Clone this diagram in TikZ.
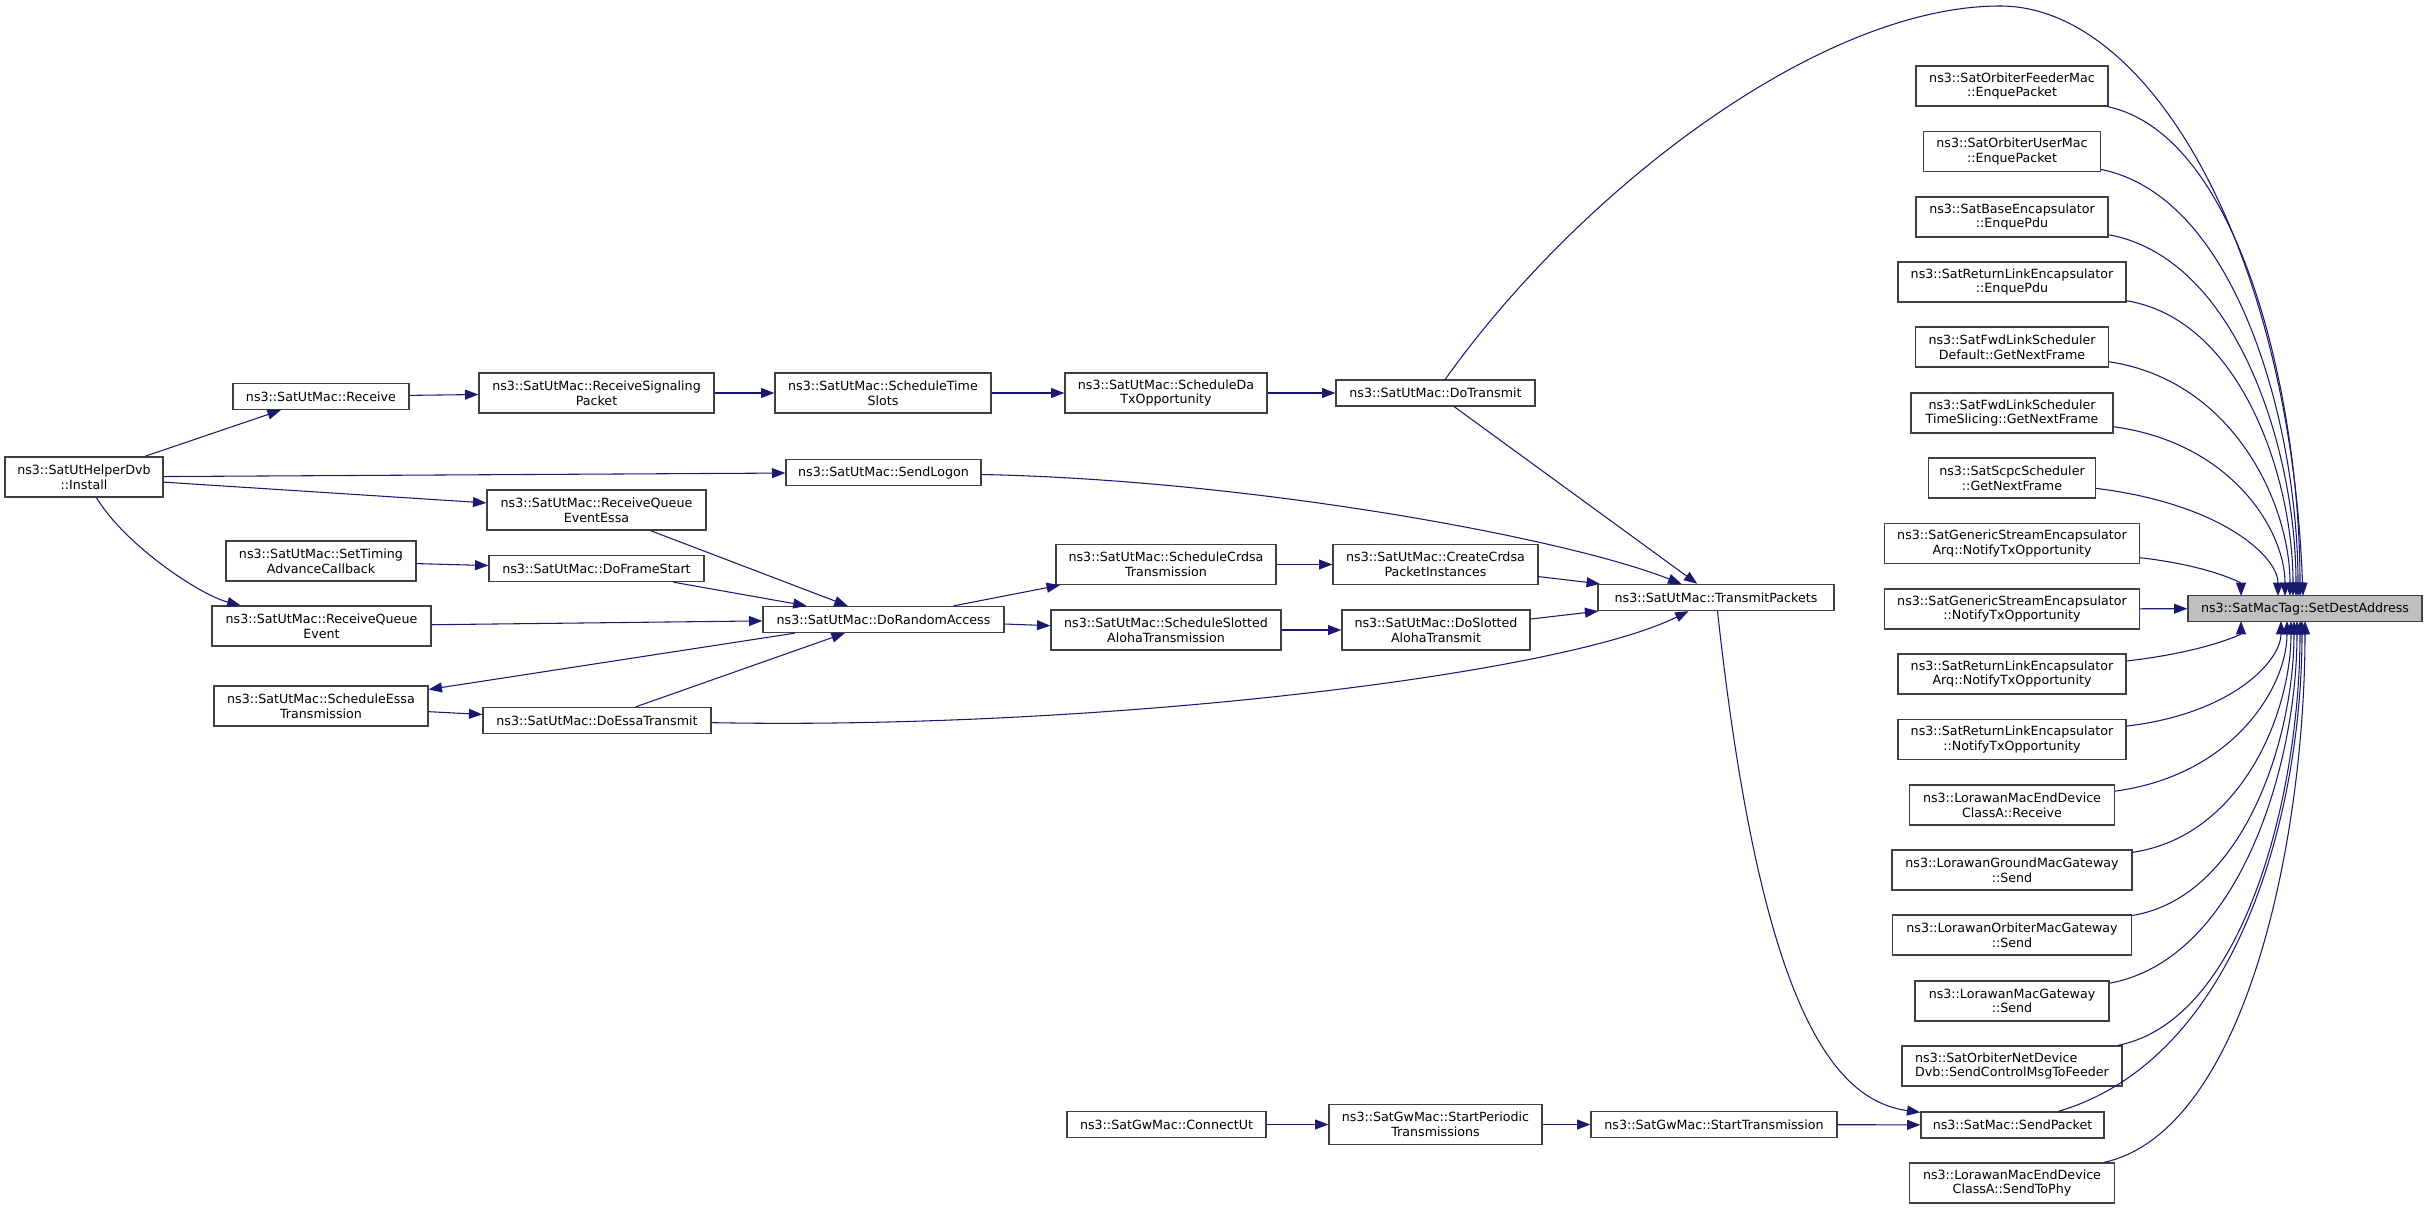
\documentclass[tikz,border=0pt]{standalone}
\usepackage{fontspec}
\setmainfont{DejaVu Sans}
\usepackage{tikz}
\usetikzlibrary{calc,arrows.meta}
\usepackage{xcolor}
\definecolor{midnightblue}{HTML}{191970}
\definecolor{grey25}{HTML}{404040}
\definecolor{grey75}{HTML}{BFBFBF}

\tikzset{
  fn/.style={draw=grey25, fill=white, rectangle, line width=1pt, inner xsep=3pt, inner ysep=2pt,
    minimum height=19.5pt, align=center, font=\fontsize{9.5}{11}\selectfont},
  two/.style={minimum height=30pt},
  bw/.style={minimum width=#1*0.75pt},
  root/.style={fn, fill=grey75},
  link/.style={draw=midnightblue, line width=0.8pt, -{Triangle[length=10pt,width=7.5pt]}}
}

\begin{document}
\begin{tikzpicture}[x=0.75pt, y=-0.75pt]
\useasboundingbox (0,0) rectangle (2428,1210);

% Callers on the left
\node[fn, two, bw=158] (install) at (84,477) {ns3::SatUtHelperDvb\\::Install};
\node[fn, bw=176] (recv) at (321,396.5) {ns3::SatUtMac::Receive};
\node[fn, two, bw=235] (rsp) at (596.5,393) {ns3::SatUtMac::ReceiveSignaling\\Packet};
\node[fn, two, bw=216] (sts) at (883,393) {ns3::SatUtMac::ScheduleTime\\Slots};
\node[fn, two, bw=202] (sda) at (1166,393) {ns3::SatUtMac::ScheduleDa\\TxOpportunity};
\node[fn, bw=199] (dotx) at (1435.5,393) {ns3::SatUtMac::DoTransmit};
\node[fn, bw=195] (logon) at (883.5,472.5) {ns3::SatUtMac::SendLogon};
\node[fn, two, bw=219] (rqee) at (596.5,510) {ns3::SatUtMac::ReceiveQueue\\EventEssa};
\node[fn, two, bw=190] (timing) at (321,561) {ns3::SatUtMac::SetTiming\\AdvanceCallback};
\node[fn, bw=215] (frame) at (596.5,568.5) {ns3::SatUtMac::DoFrameStart};
\node[fn, two, bw=219] (rqe) at (321.5,626) {ns3::SatUtMac::ReceiveQueue\\Event};
\node[fn, bw=241] (dra) at (883.5,619.5) {ns3::SatUtMac::DoRandomAccess};
\node[fn, two, bw=220] (crdsa) at (1166,564.5) {ns3::SatUtMac::ScheduleCrdsa\\Transmission};
\node[fn, two, bw=205] (create) at (1435.5,564.5) {ns3::SatUtMac::CreateCrdsa\\PacketInstances};
\node[fn, two, bw=230] (slotted) at (1166,630) {ns3::SatUtMac::ScheduleSlotted\\AlohaTransmission};
\node[fn, two, bw=188] (doslot) at (1436,630) {ns3::SatUtMac::DoSlotted\\AlohaTransmit};
\node[fn, bw=236] (tp) at (1716,597.5) {ns3::SatUtMac::TransmitPackets};
\node[fn, two, bw=214] (essa) at (321,706) {ns3::SatUtMac::ScheduleEssa\\Transmission};
\node[fn, bw=228] (doessa) at (597,720.5) {ns3::SatUtMac::DoEssaTransmit};
\node[fn, bw=199] (connect) at (1166.5,1124.5) {ns3::SatGwMac::ConnectUt};
\node[fn, two, bw=213] (periodic) at (1435.5,1124.5) {ns3::SatGwMac::StartPeriodic\\Transmissions};
\node[fn, bw=246] (starttx) at (1714,1124.5) {ns3::SatGwMac::StartTransmission};
\node[fn, bw=183] (sendpacket) at (2012.5,1125) {ns3::SatMac::SendPacket};
\node[root, bw=234] (dest) at (2305,608.5) {ns3::SatMacTag::SetDestAddress};

% Right column of callers
\foreach \n/\cy/\w/\al/\txt in {
  feeder/86/192/center/{ns3::SatOrbiterFeederMac\\::EnquePacket},
  usermac/151.5/177/center/{ns3::SatOrbiterUserMac\\::EnquePacket},
  baseenc/217/192/center/{ns3::SatBaseEncapsulator\\::EnquePdu},
  rlenc/282/228/center/{ns3::SatReturnLinkEncapsulator\\::EnquePdu},
  fwddef/347/193/center/{ns3::SatFwdLinkScheduler\\Default::GetNextFrame},
  fwdslice/413/202/center/{ns3::SatFwdLinkScheduler\\TimeSlicing::GetNextFrame},
  scpc/478/167/center/{ns3::SatScpcScheduler\\::GetNextFrame},
  gsarq/543.5/255/center/{ns3::SatGenericStreamEncapsulator\\Arq::NotifyTxOpportunity},
  gs/609/255/center/{ns3::SatGenericStreamEncapsulator\\::NotifyTxOpportunity},
  rlarq/674/228/center/{ns3::SatReturnLinkEncapsulator\\Arq::NotifyTxOpportunity},
  rlnotify/739.5/228/center/{ns3::SatReturnLinkEncapsulator\\::NotifyTxOpportunity},
  lorarecv/805/205/center/{ns3::LorawanMacEndDevice\\ClassA::Receive},
  loraground/870/240/center/{ns3::LorawanGroundMacGateway\\::Send},
  loraorbiter/935/239/center/{ns3::LorawanOrbiterMacGateway\\::Send},
  loragw/1001/194/center/{ns3::LorawanMacGateway\\::Send},
  orbnetdev/1066/220/left/{ns3::SatOrbiterNetDevice\\Dvb::SendControlMsgToFeeder},
  sendtophy/1183/205/center/{ns3::LorawanMacEndDevice\\ClassA::SendToPhy}} {
    \node[fn, two, bw=\w, align=\al] (\n) at (2012,\cy) {\txt};
}

% Straight calls
\draw[link] (install) -- (recv);
\draw[link] (install) -- (logon);
\draw[link] (install) -- (rqee);
\draw[link] (recv) -- (rsp);
\draw[link] (rsp) -- (sts);
\draw[link] (sts) -- (sda);
\draw[link] (sda) -- (dotx);
\draw[link] (dotx) -- (tp);
\draw[link] (rqee) -- (dra);
\draw[link] (timing) -- (frame);
\draw[link] (frame) -- (dra);
\draw[link] (rqe) -- (dra);
\draw[link] (dra) -- (crdsa);
\draw[link] (dra) -- (slotted);
\draw[link] (dra) -- (essa);
\draw[link] (essa) -- (doessa);
\draw[link] (doessa) -- (dra);
\draw[link] (crdsa) -- (create);
\draw[link] (create) -- (tp);
\draw[link] (slotted) -- (doslot);
\draw[link] (doslot) -- (tp);
\draw[link] (connect) -- (periodic);
\draw[link] (periodic) -- (starttx);
\draw[link] (starttx) -- (sendpacket);
\draw[link] (gs) -- (dest);

% Curved calls
\draw[link] (install) .. controls (125,545) and (200,595) .. (rqe);
\draw[link] (logon) .. controls (1250,480) and (1564,537.5) .. (tp);
\draw[link] (doessa) .. controls (1100,730) and (1560,675) .. (tp);
\draw[link] (tp) .. controls (1760,1000) and (1830,1100) .. (sendpacket);
\draw[link] (dotx) .. controls (1580,190) and (1820,6) .. (2000,6)
  .. controls (2150,6) and (2290,250) .. ($(dest.center)+(-2,-12.5)$);

% Calls into SetDestAddress from the right column
\foreach \n/\cy/\w/\ex in {
  feeder/86/192/2300, usermac/151.5/177/2298, baseenc/217/192/2296,
  rlenc/282/228/2293, fwddef/347/193/2290, fwdslice/413/202/2285,
  scpc/478/167/2278, gsarq/543.5/255/2241, rlarq/674/228/2241,
  rlnotify/739.5/228/2281, lorarecv/805/205/2287, loraground/870/240/2291,
  loraorbiter/935/239/2294, loragw/1001/194/2297, orbnetdev/1066/220/2300,
  sendpacket/1105/183/2302, sendtophy/1183/205/2305} {
    \pgfmathsetmacro\s{sign(608.5-\cy)}
    \pgfmathsetmacro\xs{2012+\w/2-5}
    \pgfmathsetmacro\ys{\cy+20*\s}
    \pgfmathsetmacro\ey{608.5-12.5*\s}
    \pgfmathsetmacro\ax{\xs+0.7*(\ex-\xs)}
    \pgfmathsetmacro\ay{\ys+0.06*(\ey-\ys)}
    \pgfmathsetmacro\by{\ys+0.6*(\ey-\ys)}
    \pgfmathsetmacro\dx{\ex-2305}
    \draw[link] (\n) .. controls (\ax,\ay) and (\ex,\by) .. ($(dest.center)+(\dx,{-12.5*\s})$);
}
\end{tikzpicture}
\end{document}
